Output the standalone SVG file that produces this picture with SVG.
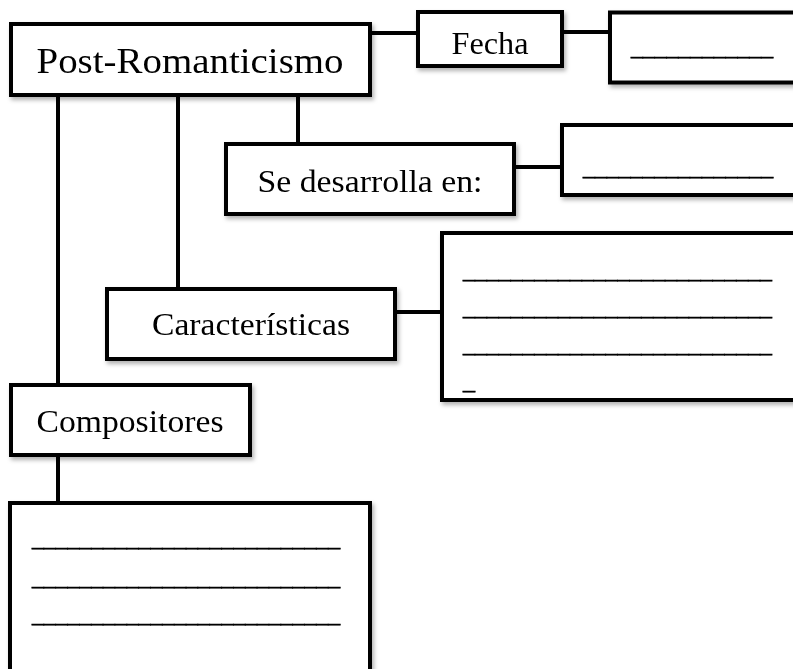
<svg xmlns="http://www.w3.org/2000/svg" width="793" height="669" viewBox="0 0 793 669">
  <defs>
    <filter id="sh" x="-10%" y="-10%" width="130%" height="140%">
      <feDropShadow dx="2" dy="3" stdDeviation="2" flood-color="#000" flood-opacity="0.3"/>
    </filter>
  </defs>
  <style>
    .box { fill: #fff; stroke: #000; stroke-width: 4; }
    .conn { stroke: #000; stroke-width: 4; fill: none; }
    .lbl { font-family: "Liberation Serif", "Times New Roman", serif; font-size: 32px; fill: #000; text-anchor: middle; }
    .big { font-size: 36px; }
    .ln { font-family: "Liberation Serif", "Times New Roman", serif; font-size: 24px; fill: #000; stroke: #000; stroke-width: 0.7; }
  </style>
  <rect width="793" height="669" fill="#fff"/>
  <g id="connectors">
    <line class="conn" x1="370" y1="33" x2="418" y2="33"/>
    <line class="conn" x1="562" y1="32" x2="610" y2="32"/>
    <line class="conn" x1="58" y1="95" x2="58" y2="385"/>
    <line class="conn" x1="178" y1="95" x2="178" y2="289"/>
    <line class="conn" x1="298" y1="95" x2="298" y2="144"/>
    <line class="conn" x1="514" y1="167" x2="562" y2="167"/>
    <line class="conn" x1="395" y1="312" x2="442" y2="312"/>
    <line class="conn" x1="58" y1="455" x2="58" y2="503"/>
  </g>
  <g id="post-romanticismo" filter="url(#sh)">
    <rect class="box" x="11" y="24" width="359" height="71"/>
    <text class="lbl big" x="190" y="73" textLength="307" lengthAdjust="spacingAndGlyphs">Post-Romanticismo</text>
  </g>
  <g id="fecha" filter="url(#sh)">
    <rect class="box" x="418" y="12" width="144" height="54"/>
    <text class="lbl" x="490" y="54" textLength="77" lengthAdjust="spacingAndGlyphs">Fecha</text>
  </g>
  <g id="fecha-valor" filter="url(#sh)">
    <rect class="box" x="610" y="12.5" width="200" height="70"/>
    <text class="ln" x="631" y="55" textLength="142" lengthAdjust="spacingAndGlyphs">____________</text>
  </g>
  <g id="se-desarrolla" filter="url(#sh)">
    <rect class="box" x="226" y="144" width="288" height="70"/>
    <text class="lbl" x="370" y="192" textLength="225" lengthAdjust="spacingAndGlyphs">Se desarrolla en:</text>
  </g>
  <g id="lugar" filter="url(#sh)">
    <rect class="box" x="562" y="125" width="250" height="70"/>
    <text class="ln" x="583" y="175" textLength="190" lengthAdjust="spacingAndGlyphs">________________</text>
  </g>
  <g id="caracteristicas" filter="url(#sh)">
    <rect class="box" x="107" y="289" width="288" height="70"/>
    <text class="lbl" x="251" y="335" textLength="198" lengthAdjust="spacingAndGlyphs">Características</text>
  </g>
  <g id="caracteristicas-lista" filter="url(#sh)">
    <rect class="box" x="442" y="233" width="370" height="167"/>
    <text class="ln" x="463" y="277.5" textLength="309" lengthAdjust="spacingAndGlyphs">__________________________</text>
    <text class="ln" x="463" y="314.5" textLength="309" lengthAdjust="spacingAndGlyphs">__________________________</text>
    <text class="ln" x="463" y="351.5" textLength="309" lengthAdjust="spacingAndGlyphs">__________________________</text>
    <text class="ln" x="463" y="388.5">_</text>
  </g>
  <g id="compositores" filter="url(#sh)">
    <rect class="box" x="11" y="385" width="239" height="70"/>
    <text class="lbl" x="130" y="432" textLength="187" lengthAdjust="spacingAndGlyphs">Compositores</text>
  </g>
  <g id="compositores-lista" filter="url(#sh)">
    <rect class="box" x="10" y="503" width="360" height="200"/>
    <text class="ln" x="32" y="546" textLength="308" lengthAdjust="spacingAndGlyphs">__________________________</text>
    <text class="ln" x="32" y="585" textLength="308" lengthAdjust="spacingAndGlyphs">__________________________</text>
    <text class="ln" x="32" y="622" textLength="308" lengthAdjust="spacingAndGlyphs">__________________________</text>
  </g>
</svg>
